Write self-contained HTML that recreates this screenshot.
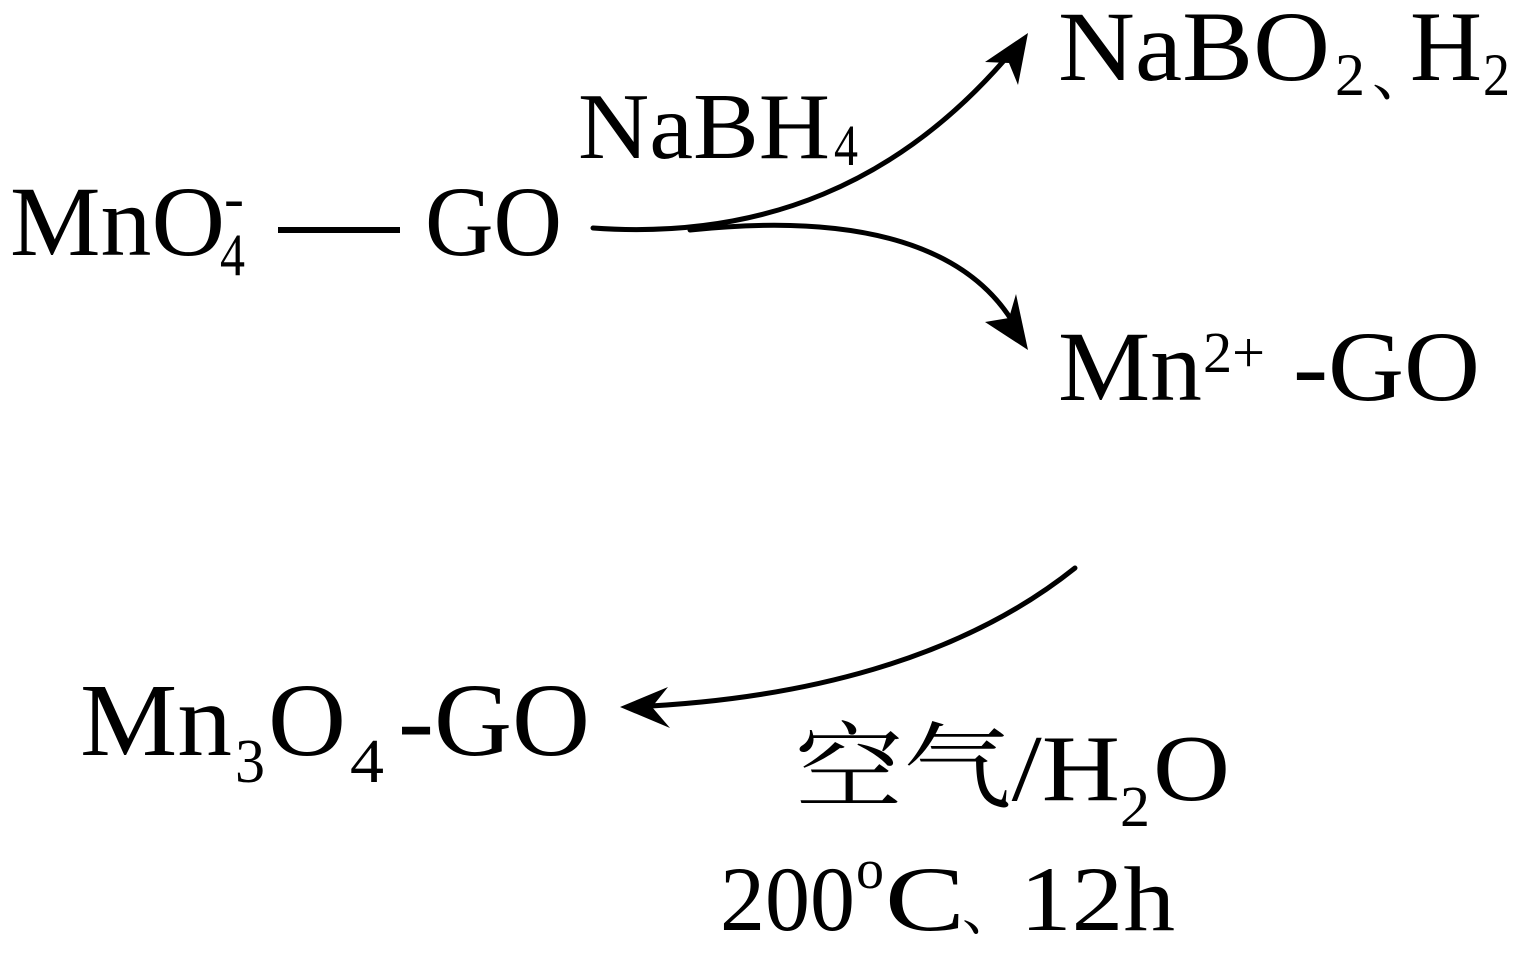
<!DOCTYPE html>
<html><head><meta charset="utf-8"><style>
html,body{margin:0;padding:0;background:#fff;}
svg{display:block;}
text{font-family:"Liberation Serif","Noto Serif CJK SC",serif;fill:#000;}
</style></head><body>
<svg width="1521" height="974" viewBox="0 0 1521 974" xmlns="http://www.w3.org/2000/svg">
<text x="10" y="255" font-size="100" textLength="215" lengthAdjust="spacingAndGlyphs">MnO</text>
<text x="220" y="275" font-size="60" textLength="25" lengthAdjust="spacingAndGlyphs">4</text>
<text x="224" y="218" font-size="60">-</text>
<rect x="278" y="227" width="122" height="6" fill="#000"/>
<text x="425" y="255" font-size="100" textLength="137" lengthAdjust="spacingAndGlyphs">GO</text>
<text x="578" y="158" font-size="94" textLength="252" lengthAdjust="spacingAndGlyphs">NaBH</text>
<text x="834" y="165" font-size="58" textLength="24" lengthAdjust="spacingAndGlyphs">4</text>
<text x="1058" y="80" font-size="100" textLength="272" lengthAdjust="spacingAndGlyphs">NaBO</text>
<text x="1335" y="95" font-size="60" textLength="30" lengthAdjust="spacingAndGlyphs">2</text>
<text x="1372" y="95" font-size="60">、</text>
<text x="1410" y="80" font-size="100" textLength="72" lengthAdjust="spacingAndGlyphs">H</text>
<text x="1483" y="95" font-size="60" textLength="27" lengthAdjust="spacingAndGlyphs">2</text>
<text x="1058" y="400" font-size="100" textLength="144" lengthAdjust="spacingAndGlyphs">Mn</text>
<text x="1203" y="372" font-size="58" textLength="62" lengthAdjust="spacingAndGlyphs">2+</text>
<text x="1293" y="400" font-size="100" textLength="187" lengthAdjust="spacingAndGlyphs">-GO</text>
<text x="80" y="755" font-size="104" textLength="152" lengthAdjust="spacingAndGlyphs">Mn</text>
<text x="235" y="782" font-size="62" textLength="30" lengthAdjust="spacingAndGlyphs">3</text>
<text x="268" y="755" font-size="104" textLength="78" lengthAdjust="spacingAndGlyphs">O</text>
<text x="350" y="782" font-size="62" textLength="34" lengthAdjust="spacingAndGlyphs">4</text>
<text x="398" y="755" font-size="104" textLength="192" lengthAdjust="spacingAndGlyphs">-GO</text>
<text x="795" y="800" font-size="94" textLength="325" lengthAdjust="spacingAndGlyphs">空气/H</text>
<text x="1120" y="826" font-size="58" textLength="30" lengthAdjust="spacingAndGlyphs">2</text>
<text x="1153" y="800" font-size="94" textLength="77" lengthAdjust="spacingAndGlyphs">O</text>
<text x="720" y="930" font-size="92" textLength="135" lengthAdjust="spacingAndGlyphs">200</text>
<text x="856" y="888" font-size="56">o</text>
<text x="885" y="930" font-size="92" textLength="80" lengthAdjust="spacingAndGlyphs">C</text>
<text x="962" y="930" font-size="56">、</text>
<text x="1020" y="930" font-size="92" textLength="155" lengthAdjust="spacingAndGlyphs">12h</text>
<g fill="none" stroke="#000" stroke-width="5" stroke-linecap="round">
<path d="M593,228 C760,240 900,185 1013,50"/>
<path d="M690,230 C860,212 975,245 1020,335"/>
<path d="M1075,568 C960,660 800,700 630,707"/>
</g>
<polygon points="1028,33 1018,85 1009,63 985,62" fill="#000"/>
<polygon points="1028,350 985,322 1009,318 1016,294" fill="#000"/>
<polygon points="620,707 668,687 652,707 670,728" fill="#000"/>
</svg>
</body></html>
